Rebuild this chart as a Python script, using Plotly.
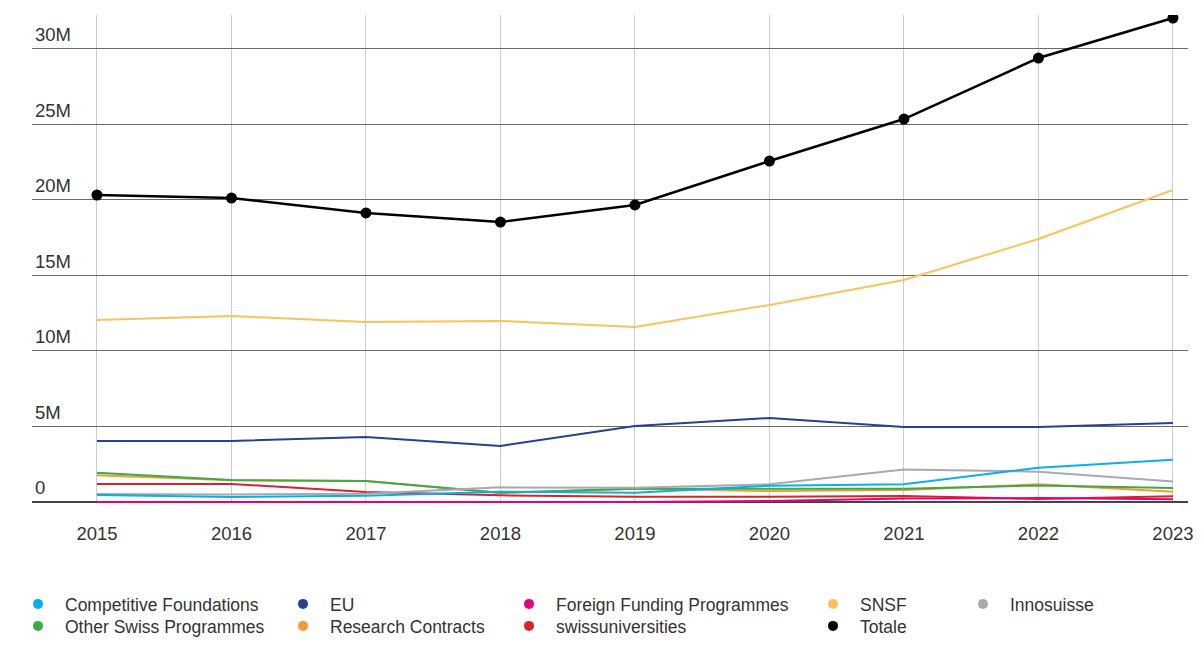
import plotly.graph_objects as go

years = [2015, 2016, 2017, 2018, 2019, 2020, 2021, 2022, 2023]
# values in million CHF
competitive_foundations = [0.46, 0.33, 0.42, 0.68, 0.62, 1.08, 1.17, 2.27, 2.80]
eu = [4.04, 4.04, 4.30, 3.71, 5.03, 5.56, 4.97, 4.97, 5.23]
foreign_funding = [0.0, 0.0, 0.0, 0.0, 0.0, 0.07, 0.24, 0.26, 0.18]
snsf = [12.05, 12.32, 11.92, 11.99, 11.59, 13.05, 14.70, 17.42, 20.66]
innosuisse = [0.53, 0.50, 0.55, 0.97, 0.95, 1.17, 2.16, 2.01, 1.35]
other_swiss = [1.94, 1.46, 1.39, 0.62, 0.88, 0.88, 0.88, 1.10, 0.93]
research_contracts = [1.77, 1.44, 1.39, 0.60, 0.88, 0.73, 0.79, 1.17, 0.68]
swissuniversities = [1.19, 1.19, 0.66, 0.44, 0.35, 0.35, 0.40, 0.20, 0.38]
totale = [20.33, 20.13, 19.14, 18.54, 19.67, 22.58, 25.36, 29.40, 32.05]

y_tickvals = [0, 5, 10, 15, 20, 25, 30]
y_ticktext = ["0", "5M", "10M", "15M", "20M", "25M", "30M"]

series = [
    ("Competitive Foundations", competitive_foundations, "#0aaeea"),
    ("EU", eu, "#29408f"),
    ("Foreign Funding Programmes", foreign_funding, "#e5007d"),
    ("SNSF", snsf, "#fbc25a"),
    ("Innosuisse", innosuisse, "#a9a9ae"),
    ("Other Swiss Programmes", other_swiss, "#3ea946"),
    ("Research Contracts", research_contracts, "#f39a33"),
    ("swissuniversities", swissuniversities, "#d7232b"),
]

FONT = "Liberation Sans"
TXT = "#333333"

# page body has an 8px margin: figure coordinates are window coordinates - 8
OFF = 8
W, H = 1202 - OFF, 668 - OFF
plot_left, plot_right = 32 - OFF, 1188 - OFF
plot_top, plot_bottom = 15 - OFF, 503 - OFF
pw = plot_right - plot_left
ph = plot_bottom - plot_top

fig = go.Figure()

fig.add_trace(go.Scatter(x=years, y=totale, mode="lines+markers", name="Totale",
                         line=dict(color="#000000", width=2.5),
                         marker=dict(size=11, color="#000000"),
                         showlegend=False))
for name, vals, color in reversed(series):
    fig.add_trace(go.Scatter(x=years, y=vals, mode="lines", name=name,
                             line=dict(color=color, width=2),
                             showlegend=False))

# legend layout: (name, color, marker-centre x in window px, row)
legend_entries = [
    ("Competitive Foundations", "#0aaeea", 38, 0),
    ("EU", "#29408f", 303, 0),
    ("Foreign Funding Programmes", "#e5007d", 529, 0),
    ("SNSF", "#fbc25a", 833, 0),
    ("Innosuisse", "#a9a9ae", 983, 0),
    ("Other Swiss Programmes", "#3ea946", 38, 1),
    ("Research Contracts", "#f39a33", 303, 1),
    ("swissuniversities", "#d7232b", 529, 1),
    ("Totale", "#000000", 833, 1),
]
row_centres = [604, 626]
ITEMW = 44
legends = {}
for i, (name, color, cx, row) in enumerate(legend_entries):
    lid = "legend" if i == 0 else f"legend{i + 1}"
    fig.add_trace(go.Scatter(x=[None], y=[None], mode="markers", name=name,
                             marker=dict(size=10, color=color),
                             legend=lid, showlegend=True))
    left_fig = (cx - OFF) - (5 + ITEMW / 2)
    top_fig = (row_centres[row] - OFF) - 18
    legends[lid] = dict(x=(left_fig - plot_left) / pw, y=-(top_fig - plot_bottom) / ph,
                        xanchor="left", yanchor="top", orientation="v",
                        itemwidth=ITEMW,
                        font=dict(family=FONT, size=17.5, color=TXT),
                        bgcolor="rgba(0,0,0,0)", borderwidth=0)

fig.update_layout(
    width=W, height=H,
    margin=dict(l=plot_left, r=W - plot_right, t=plot_top, b=H - plot_bottom, autoexpand=False),
    paper_bgcolor="white", plot_bgcolor="white",
    font=dict(family=FONT, size=17.5, color=TXT),
    xaxis=dict(range=[2014.517, 2023.112], tickvals=years, ticktext=[str(y) for y in years],
               showgrid=True, gridcolor="#cccccc", gridwidth=1, zeroline=False,
               showline=False, ticks="", ticklabelstandoff=17,
               tickfont=dict(family=FONT, size=18.5, color=TXT)),
    yaxis=dict(range=[-0.066, 32.25], tickvals=y_tickvals, ticktext=y_ticktext,
               showgrid=True, gridcolor="#6a6a6a", gridwidth=1,
               zeroline=True, zerolinecolor="#444444", zerolinewidth=1.5,
               showline=False, ticks="", ticklabelposition="inside",
               ticklabelshift=-14, ticklabelstandoff=0,
               tickfont=dict(family=FONT, size=18.5, color=TXT)),
    showlegend=True,
    **legends,
)

fig.write_html("out.html")
